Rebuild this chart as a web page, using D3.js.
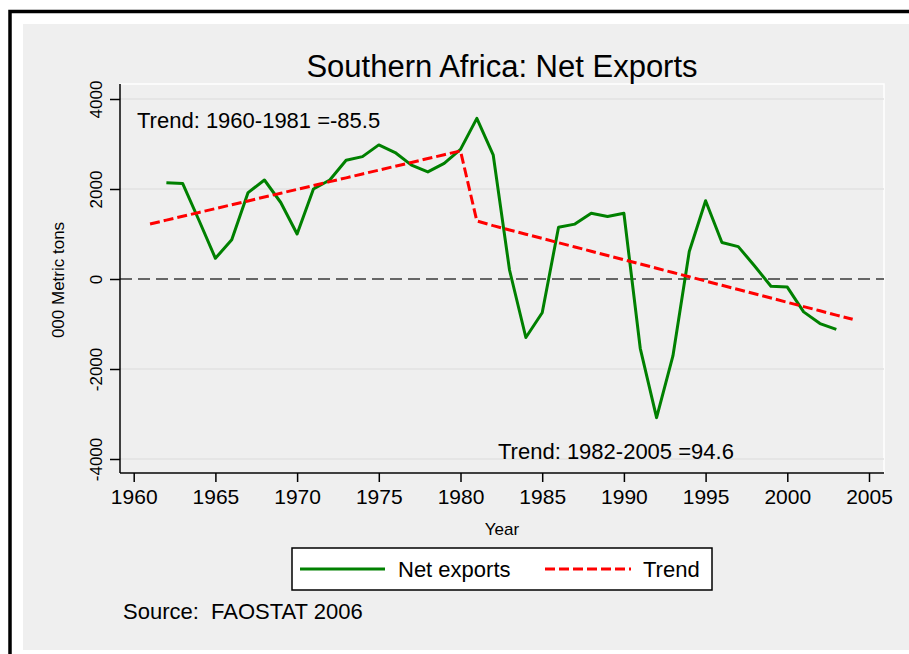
<!DOCTYPE html>
<html>
<head>
<meta charset="utf-8">
<script src="https://cdn.jsdelivr.net/npm/d3@7"></script>
<style>
  body { margin: 0; background: #fff; }
  svg text { font-family: "Liberation Sans", Arial, sans-serif; fill: #000; white-space: pre; }
</style>
</head>
<body>
<div id="chart"></div>
<script>
// valeurs
var years = [1962, 1963, 1964, 1965, 1966, 1967, 1968, 1969, 1970, 1971,
             1972, 1973, 1974, 1975, 1976, 1977, 1978, 1979, 1980, 1981,
             1982, 1983, 1984, 1985, 1986, 1987, 1988, 1989, 1990, 1991,
             1992, 1993, 1994, 1995, 1996, 1997, 1998, 1999, 2000, 2001,
             2002, 2003];
var netExports = [2140, 2120, 1300, 460, 870, 1920, 2200, 1700, 1000, 2000,
                  2200, 2640, 2720, 2980, 2810, 2530, 2380, 2570, 2880, 3570,
                  2760, 200, -1300, -750, 1150, 1220, 1460, 1390, 1460, -1540,
                  -3080, -1710, 610, 1740, 810, 720, 290, -160, -180, -730,
                  -990, -1120];

var trendYears = [1961, 1962, 1963, 1964, 1965, 1966, 1967, 1968, 1969, 1970,
                  1971, 1972, 1973, 1974, 1975, 1976, 1977, 1978, 1979, 1980,
                  1981, 1982, 1983, 1984, 1985, 1986, 1987, 1988, 1989, 1990,
                  1991, 1992, 1993, 1994, 1995, 1996, 1997, 1998, 1999, 2000,
                  2001, 2002, 2003, 2004];
var trendValues = [1222, 1308, 1393, 1479, 1564, 1650, 1735, 1821, 1906, 1992,
                   2077, 2163, 2248, 2334, 2419, 2505, 2590, 2676, 2761, 2847,
                   1290, 1185, 1090, 996, 901, 806, 712, 617, 523, 428,
                   333, 239, 144, 50, -45, -140, -234, -329, -423, -518,
                   -613, -707, -802, -896];

var xTicks = [1960, 1965, 1970, 1975, 1980, 1985, 1990, 1995, 2000, 2005];
var yTicks = [-4000, -2000, 0, 2000, 4000];
var gridValues = [-4000, -2000, 2000, 4000];

var titleText = "Southern Africa: Net Exports";
var note1 = "Trend: 1960-1981 =-85.5";
var note2 = "Trend: 1982-2005 =94.6";
var legendLabels = ["Net exports", "Trend"];
var sourceText = "Source:  FAOSTAT 2006";

var W = 909, H = 654;
var plot = {left: 120, right: 884, top: 84, bottom: 473};

var svg = d3.select("#chart").append("svg")
    .attr("width", W)
    .attr("height", H);

// cadre noir + fond blanc
svg.append("rect")
    .attr("x", 10).attr("y", 11.5)
    .attr("width", 1000).attr("height", 1000)
    .attr("fill", "#fff")
    .attr("stroke", "#000")
    .attr("stroke-width", 3.5);

// zone grise du graphique
svg.append("rect")
    .attr("x", 23).attr("y", 24)
    .attr("width", W - 23).attr("height", 650 - 24)
    .attr("fill", "#efefef");

var x = d3.scaleLinear().domain([1960, 2005]).range([133.7, 869]);
var y = d3.scaleLinear().domain([-4000, 4000]).range([459, 99]);

// bord de la zone de tracé
svg.append("rect")
    .attr("x", plot.left).attr("y", plot.top)
    .attr("width", plot.right - plot.left)
    .attr("height", plot.bottom - plot.top)
    .attr("fill", "none")
    .attr("stroke", "#fff")
    .attr("stroke-width", 1.5);

// lignes de grille
svg.selectAll(".grid")
    .data(gridValues)
    .enter().append("line")
    .attr("class", "grid")
    .attr("x1", plot.left).attr("x2", plot.right)
    .attr("y1", function(d) { return y(d); })
    .attr("y2", function(d) { return y(d); })
    .attr("stroke", "#e2e2e2")
    .attr("stroke-width", 1.5);

// ligne zéro en pointillés
svg.append("line")
    .attr("x1", plot.left).attr("x2", plot.right)
    .attr("y1", y(0)).attr("y2", y(0))
    .attr("stroke", "#3a3a3a")
    .attr("stroke-width", 1.5)
    .attr("stroke-dasharray", "12,6");

// format avec un tiret simple pour le signe moins
var plainFormat = function(d) { return String(d); };

// axe des x
var xAxis = svg.append("g")
    .attr("transform", "translate(0," + plot.bottom + ")")
    .call(d3.axisBottom(x).tickValues(xTicks).tickSize(9).tickFormat(plainFormat));
xAxis.select(".domain").remove();
xAxis.selectAll(".tick line").attr("stroke", "#000").attr("stroke-width", 1.5);
xAxis.selectAll(".tick text")
    .attr("y", 31).attr("dy", 0)
    .style("font-size", "21px")
    .style("font-family", "Liberation Sans, Arial, sans-serif");

// axe des y
var yAxis = svg.append("g")
    .attr("transform", "translate(" + plot.left + ",0)")
    .call(d3.axisLeft(y).tickValues(yTicks).tickSize(10).tickFormat(plainFormat));
yAxis.select(".domain").remove();
yAxis.selectAll(".tick line").attr("stroke", "#000").attr("stroke-width", 1.5);
yAxis.selectAll(".tick text")
    .attr("x", 0).attr("y", 0).attr("dy", 0)
    .attr("transform", "translate(-18,0) rotate(-90)")
    .style("text-anchor", "middle")
    .style("font-size", "17px")
    .style("font-family", "Liberation Sans, Arial, sans-serif");

svg.append("line")
    .attr("x1", plot.left).attr("x2", plot.right)
    .attr("y1", plot.bottom).attr("y2", plot.bottom)
    .attr("stroke", "#000").attr("stroke-width", 1.5);
svg.append("line")
    .attr("x1", plot.left).attr("x2", plot.left)
    .attr("y1", plot.top).attr("y2", plot.bottom)
    .attr("stroke", "#000").attr("stroke-width", 1.5);

// séries
var netLine = d3.line()
    .x(function(d, i) { return x(years[i]); })
    .y(function(d) { return y(d); });
var trendLine = d3.line()
    .x(function(d, i) { return x(trendYears[i]); })
    .y(function(d) { return y(d); });

svg.append("path")
    .datum(netExports)
    .attr("d", netLine)
    .attr("fill", "none")
    .attr("stroke", "#008000")
    .attr("stroke-width", 3)
    .attr("stroke-linejoin", "round");

svg.append("path")
    .datum(trendValues)
    .attr("d", trendLine)
    .attr("fill", "none")
    .attr("stroke", "#ff0000")
    .attr("stroke-width", 3)
    .attr("stroke-dasharray", "10,4");

// titre et textes
svg.append("text")
    .attr("x", (plot.left + plot.right) / 2).attr("y", 77)
    .style("text-anchor", "middle")
    .style("font-size", "31px")
    .text(titleText);

svg.append("text")
    .attr("x", 137).attr("y", 128)
    .style("font-size", "22px")
    .text(note1);

svg.append("text")
    .attr("x", 498).attr("y", 459)
    .style("font-size", "22px")
    .text(note2);

svg.append("text")
    .attr("x", (plot.left + plot.right) / 2).attr("y", 535)
    .style("text-anchor", "middle")
    .style("font-size", "17px")
    .text("Year");

svg.append("text")
    .attr("transform", "translate(63.5,280) rotate(-90)")
    .style("text-anchor", "middle")
    .style("font-size", "17px")
    .text("000 Metric tons");

// légende
var legend = svg.append("g");
legend.append("rect")
    .attr("x", 292).attr("y", 548)
    .attr("width", 420).attr("height", 42)
    .attr("fill", "#fff")
    .attr("stroke", "#000")
    .attr("stroke-width", 1.5);
legend.append("line")
    .attr("x1", 300).attr("x2", 385)
    .attr("y1", 569).attr("y2", 569)
    .attr("stroke", "#008000").attr("stroke-width", 3);
legend.append("text")
    .attr("x", 398).attr("y", 577)
    .style("font-size", "22px")
    .text(legendLabels[0]);
legend.append("line")
    .attr("x1", 545).attr("x2", 631)
    .attr("y1", 569).attr("y2", 569)
    .attr("stroke", "#ff0000").attr("stroke-width", 3)
    .attr("stroke-dasharray", "10,4");
legend.append("text")
    .attr("x", 643).attr("y", 577)
    .style("font-size", "22px")
    .text(legendLabels[1]);

svg.append("text")
    .attr("x", 123).attr("y", 619)
    .style("font-size", "22px")
    .text(sourceText);
</script>
</body>
</html>
